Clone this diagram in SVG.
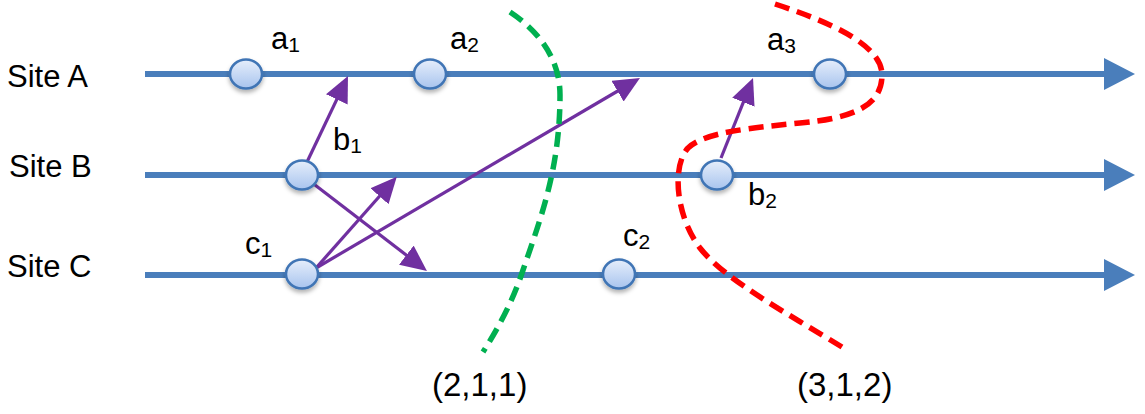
<svg xmlns="http://www.w3.org/2000/svg" width="1145" height="414" viewBox="0 0 1145 414">
<defs>
<linearGradient id="ng" x1="0" y1="0" x2="0" y2="1">
<stop offset="0" stop-color="#e6eefb"/>
<stop offset="1" stop-color="#a8c4ee"/>
</linearGradient>
<filter id="sh" x="-50%" y="-50%" width="200%" height="200%">
<feDropShadow dx="0" dy="3" stdDeviation="2" flood-color="#000" flood-opacity="0.3"/>
</filter>
<marker id="bluehead" markerUnits="userSpaceOnUse" markerWidth="34" markerHeight="34" refX="2" refY="16" orient="auto">
<path d="M0,0 L31,16 L0,32 z" fill="#4A7EBB"/>
</marker>
<marker id="purplehead" markerUnits="userSpaceOnUse" markerWidth="28" markerHeight="26" refX="20" refY="12" orient="auto">
<path d="M0,0 L26,12 L0,24 z" fill="#7030A0"/>
</marker>
</defs>
<style>
.site{stroke:#4A7EBB;stroke-width:6;fill:none}
.msg{stroke:#7030A0;stroke-width:3.2;fill:none;marker-end:url(#purplehead)}
.node{fill:url(#ng);stroke:#3F74B5;stroke-width:2.5;filter:url(#sh)}
.lbl{font-family:"Liberation Sans",Arial,sans-serif;font-size:31px;fill:#000}
.sub{font-size:21px}
.cut{font-family:"Liberation Sans",Arial,sans-serif;font-size:33px;fill:#000}
.green{stroke:#00B050;stroke-width:5.5;fill:none;stroke-dasharray:15 8}
.red{stroke:#FF0000;stroke-width:5.5;fill:none;stroke-dasharray:15 8}
</style>
<g id="timelines">
<line class="site" x1="145" y1="74" x2="1106" y2="74" marker-end="url(#bluehead)"/>
<line class="site" x1="145" y1="175" x2="1106" y2="175" marker-end="url(#bluehead)"/>
<line class="site" x1="145" y1="275" x2="1106" y2="275" marker-end="url(#bluehead)"/>
</g>
<g id="site-labels">
<text class="lbl" x="7" y="87">Site A</text>
<text class="lbl" x="9" y="177">Site B</text>
<text class="lbl" x="7" y="277">Site C</text>
</g>
<g id="connectors">
<line class="msg" x1="307" y1="162" x2="345.4" y2="81.4"/>
<line class="msg" x1="314.7" y1="184.7" x2="422.2" y2="267.3"/>
<line class="msg" x1="316" y1="268" x2="392.8" y2="181.3"/>
<line class="msg" x1="316" y1="268" x2="634.8" y2="81"/>
<line class="msg" x1="721" y1="158" x2="750.8" y2="83.6"/>
</g>
<g id="a1"><ellipse class="node" cx="246" cy="74" rx="16" ry="14.5"/><text class="lbl" x="271" y="49">a<tspan class="sub" dy="3">1</tspan></text></g>
<g id="a2"><ellipse class="node" cx="430" cy="74" rx="16" ry="14.5"/><text class="lbl" x="450" y="49">a<tspan class="sub" dy="3">2</tspan></text></g>
<g id="a3"><ellipse class="node" cx="830" cy="74" rx="16" ry="14.5"/><text class="lbl" x="767" y="50">a<tspan class="sub" dy="3">3</tspan></text></g>
<g id="b1"><ellipse class="node" cx="302" cy="175" rx="16" ry="14.5"/><text class="lbl" x="333" y="150">b<tspan class="sub" dy="3">1</tspan></text></g>
<g id="b2"><ellipse class="node" cx="717" cy="175" rx="16" ry="14.5"/><text class="lbl" x="748" y="205">b<tspan class="sub" dy="3">2</tspan></text></g>
<g id="c1"><ellipse class="node" cx="302" cy="274" rx="16" ry="14.5"/><text class="lbl" x="245" y="254">c<tspan class="sub" dy="3">1</tspan></text></g>
<g id="c2"><ellipse class="node" cx="619" cy="274" rx="16" ry="14.5"/><text class="lbl" x="623" y="246">c<tspan class="sub" dy="3">2</tspan></text></g>
<g id="cut-green">
<path class="green" d="M510,12 C540,32 560,60 560,95 C560,170 540,220 522,273 C512,303 497,330 483,352"/>
<text class="cut" x="432" y="396">(2,1,1)</text>
</g>
<g id="cut-red">
<path class="red" d="M775,4 C830,22 882,45 882,75 C882,105 855,118 800,123 C750,128 705,132 688,148 C672,165 675,215 700,248 C725,280 790,315 842,347"/>
<text class="cut" x="797" y="396">(3,1,2)</text>
</g>
</svg>
